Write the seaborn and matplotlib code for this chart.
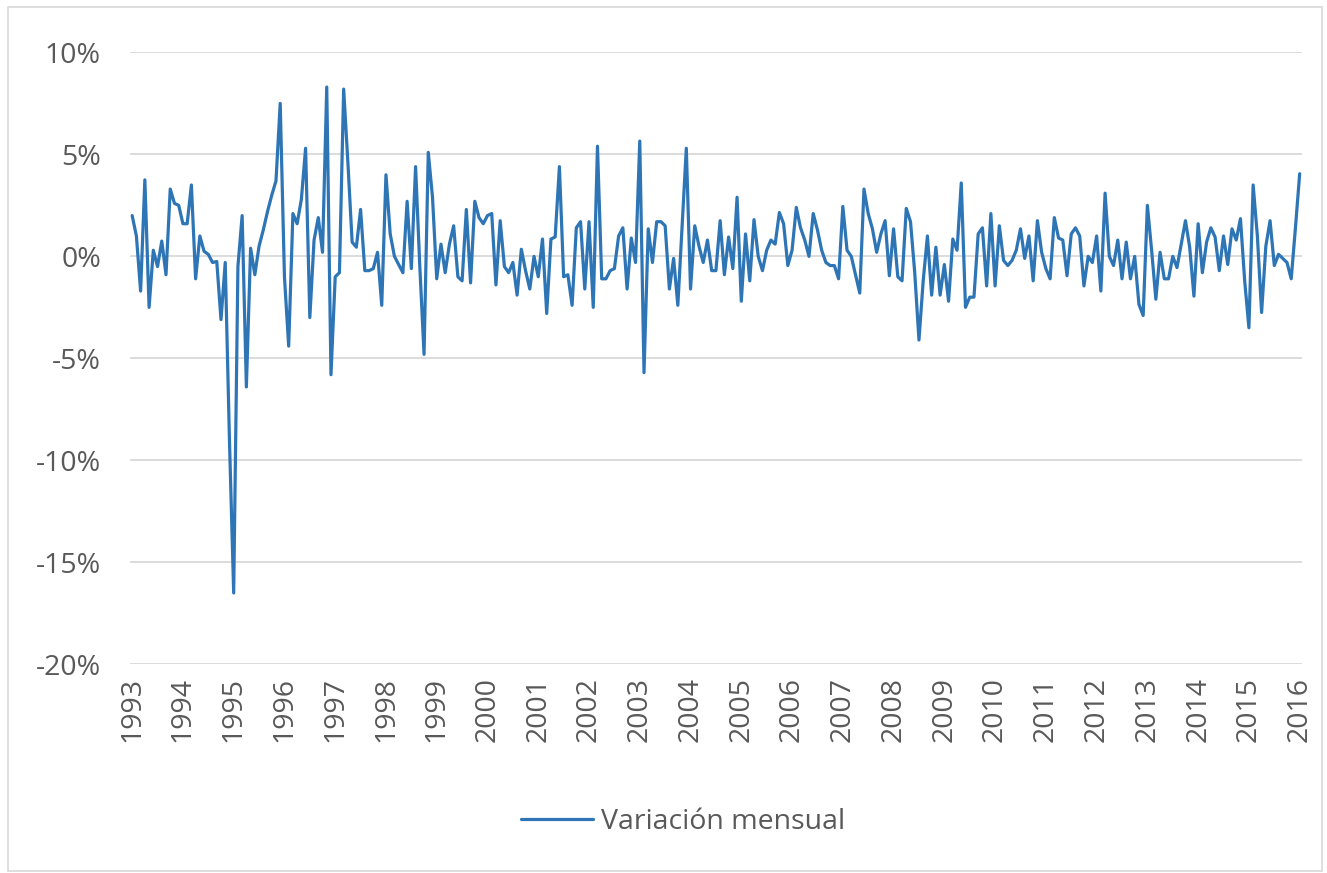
import numpy as np
import pandas as pd
import seaborn as sns
import matplotlib.pyplot as plt
from matplotlib.patches import Rectangle

# monthly variation (%), Jan 1993 - Jan 2016
var_1993_1996 = [2.0, 1.0, -1.7, 3.75, -2.5, 0.3, -0.5, 0.75, -0.9, 3.3, 2.6, 2.5,
                 1.6, 1.6, 3.5, -1.1, 1.0, 0.25, 0.1, -0.3, -0.25, -3.1, -0.3, -9.0,
                 -16.5, -0.5, 2.0, -6.4, 0.4, -0.9, 0.5, 1.3, 2.2, 3.0, 3.7, 7.5,
                 -1.0, -4.4, 2.1, 1.6, 2.8, 5.3, -3.0, 0.8, 1.9, 0.2, 8.3, -5.8]
var_1997_2000 = [-1.0, -0.8, 8.2, 4.6, 0.7, 0.45, 2.3, -0.7, -0.7, -0.6, 0.2, -2.4,
                 4.0, 1.1, 0.0, -0.4, -0.8, 2.7, -0.6, 4.4, -0.5, -4.8, 5.1, 2.9,
                 -1.1, 0.6, -0.8, 0.6, 1.5, -1.0, -1.2, 2.3, -1.3, 2.7, 1.9, 1.6,
                 2.0, 2.1, -1.4, 1.75, -0.5, -0.8, -0.3, -1.9, 0.35, -0.7, -1.6, 0.0]
var_2001_2004 = [-1.0, 0.85, -2.8, 0.85, 0.95, 4.4, -1.0, -0.9, -2.4, 1.4, 1.7, -1.6,
                 1.7, -2.5, 5.4, -1.1, -1.1, -0.7, -0.6, 1.0, 1.4, -1.6, 0.9, -0.3,
                 5.65, -5.7, 1.35, -0.3, 1.7, 1.7, 1.5, -1.6, -0.1, -2.4, 1.5, 5.3,
                 -1.6, 1.5, 0.5, -0.3, 0.8, -0.7, -0.7, 1.75, -0.9, 0.95, -0.6, 2.9]
var_2005_2008 = [-2.2, 1.1, -1.2, 1.8, 0.0, -0.7, 0.3, 0.8, 0.6, 2.15, 1.6, -0.45,
                 0.3, 2.4, 1.4, 0.8, 0.0, 2.1, 1.3, 0.3, -0.3, -0.45, -0.45, -1.1,
                 2.45, 0.3, 0.0, -0.9, -1.8, 3.3, 2.1, 1.35, 0.2, 1.1, 1.75, -0.95,
                 1.35, -1.0, -1.2, 2.35, 1.7, -0.8, -4.1, -1.2, 1.0, -1.9, 0.45, -1.9]
var_2009_2012 = [-0.4, -2.2, 0.85, 0.3, 3.6, -2.5, -2.0, -2.0, 1.1, 1.4, -1.45, 2.1,
                 -1.45, 1.5, -0.2, -0.45, -0.2, 0.3, 1.35, -0.1, 1.0, -1.2, 1.75, 0.2,
                 -0.6, -1.1, 1.9, 0.9, 0.8, -0.95, 1.1, 1.4, 1.0, -1.45, 0.0, -0.3,
                 1.0, -1.7, 3.1, 0.0, -0.45, 0.8, -1.1, 0.7, -1.1, 0.0, -2.35, -2.9]
var_2013_2016 = [2.5, 0.3, -2.1, 0.2, -1.1, -1.1, 0.0, -0.55, 0.6, 1.75, 0.45, -1.95,
                 1.6, -0.8, 0.7, 1.4, 0.95, -0.7, 1.0, -0.4, 1.35, 0.8, 1.85, -1.2,
                 -3.5, 3.5, 1.0, -2.75, 0.5, 1.75, -0.45, 0.1, -0.1, -0.3, -1.1, 1.4,
                 4.05]

years = list(range(1993, 2017))
y_ticks = [10, 5, 0, -5, -10, -15, -20]

values = var_1993_1996 + var_1997_2000 + var_2001_2004 + var_2005_2008 + var_2009_2012 + var_2013_2016
df = pd.DataFrame({"mes": np.arange(len(values)), "variacion": values})

sns.set_style("white")
plt.rcParams['font.family'] = ['Open Sans', 'DejaVu Sans']
plt.rcParams['axes.unicode_minus'] = False

fig = plt.figure(figsize=(13.27, 8.73), dpi=100)
ax = fig.add_axes([0.098, 0.239, 0.883, 0.701])

sns.lineplot(data=df, x="mes", y="variacion", ax=ax, color="#2E75B6",
             linewidth=2.3, label="Variación mensual")

ax.set_xlim(-0.5, len(values) - 0.5)
ax.set_ylim(-20, 10)
ax.set_yticks(y_ticks)
ax.set_yticklabels([f"{t}%" for t in y_ticks])
ax.set_xticks([12 * i for i in range(len(years))])
ax.set_xticklabels([str(y) for y in years], rotation=90)
ax.tick_params(axis="both", labelsize=20.5, colors="#595959", length=0)
ax.tick_params(axis="y", pad=21)
ax.tick_params(axis="x", pad=9)
ax.yaxis.grid(True, color="#D9D9D9", linewidth=1.3)
ax.set_axisbelow(True)
for s in ax.spines.values():
    s.set_visible(False)
ax.set_xlabel("")
ax.set_ylabel("")

ax.get_legend().remove()
handles, labels = ax.get_legend_handles_labels()
fig.legend(handles, labels, loc="center", bbox_to_anchor=(0.515, 0.058), frameon=False,
           fontsize=20.5, labelcolor="#595959", handlelength=2.5, handletextpad=0.3)

# light frame round the chart, as in the spreadsheet export
fig.patches.append(Rectangle((0.006, 0.002), 0.99, 0.99, transform=fig.transFigure,
                             fill=False, edgecolor="#D9D9D9", linewidth=1.2))

fig.savefig("out.png", dpi=100)
